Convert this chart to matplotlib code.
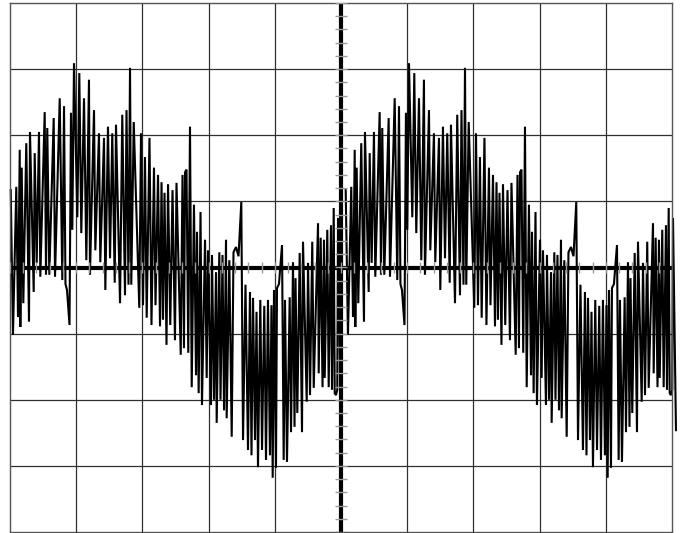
import numpy as np
import matplotlib
matplotlib.use('Agg')
import matplotlib.pyplot as plt

# one sweep of the trace (time and volts in divisions)
t_div = [0.011, 0.045, 0.095, 0.121, 0.147, 0.156, 0.177, 0.201, 0.246, 0.287,
         0.302, 0.358, 0.373, 0.403, 0.438, 0.458, 0.524, 0.544, 0.563, 0.594,
         0.660, 0.680, 0.751, 0.790, 0.816, 0.838, 0.861, 0.899, 0.921, 0.941,
         0.967, 1.017, 1.047, 1.077, 1.118, 1.153, 1.193, 1.208, 1.269, 1.289,
         1.344, 1.364, 1.420, 1.440, 1.480, 1.511, 1.545, 1.582, 1.601, 1.662,
         1.696, 1.737, 1.760, 1.790, 1.813, 1.832, 1.869, 1.953, 1.979, 2.009,
         2.039, 2.065, 2.107, 2.137, 2.175, 2.198, 2.236, 2.266, 2.289, 2.311,
         2.334, 2.364, 2.387, 2.421, 2.455, 2.492, 2.515, 2.579, 2.606, 2.628,
         2.644, 2.666, 2.693, 2.719, 2.745, 2.779, 2.810, 2.825, 2.850, 2.878,
         2.900, 2.946, 2.971, 2.991, 3.036, 3.051, 3.082, 3.112, 3.122, 3.162,
         3.180, 3.210, 3.233, 3.263, 3.273, 3.313, 3.349, 3.376, 3.414, 3.452,
         3.494, 3.520, 3.557, 3.595, 3.625, 3.648, 3.671, 3.701, 3.724, 3.746,
         3.781, 3.807, 3.841, 3.867, 3.897, 3.927, 3.950, 3.968, 3.988, 4.018,
         4.033, 4.063, 4.109, 4.134, 4.154, 4.184, 4.225, 4.245, 4.275, 4.298,
         4.313, 4.340, 4.376, 4.411, 4.426, 4.482, 4.502, 4.532, 4.566, 4.588,
         4.653, 4.663, 4.693, 4.721, 4.743, 4.754, 4.793, 4.814, 4.849, 4.864,
         4.890, 4.905, 4.924, 4.944, 4.955, 5.000]
v_div = [1.17, -1.02, 1.22, -0.75, 1.78, -0.90, 1.51, -0.54, 1.88, -0.82,
         2.05, -0.37, 1.73, 0.07, 2.05, -0.14, 2.35, -0.11, 2.11, -0.11,
         2.26, -0.14, 2.56, -0.19, 2.44, -0.25, -0.34, -0.87, 2.34, 0.57,
         3.09, 0.76, 2.94, 0.52, 2.56, 0.11, 2.84, -0.11, 2.38, 0.26,
         2.03, 0.08, 1.96, -0.34, 2.13, 0.14, 2.03, -0.23, 2.16, -0.54,
         2.31, -0.42, 2.38, -0.26, 3.02, -0.26, 2.20, -0.61, 2.03, -0.57,
         1.67, -0.76, 1.96, -0.87, 1.51, -0.57, 1.40, -0.89, 1.29, -0.79,
         1.13, -1.17, 1.26, -0.87, 1.17, -1.10, 1.28, -1.32, 1.40, -1.22,
         1.44, 1.48, -1.29, 2.13, -1.81, 0.95, -1.63, 0.54, -1.90, 0.84,
         -2.08, 0.42, -1.67, 0.26, -2.08, 0.19, -2.00, -0.07, -2.35, 0.23,
         -2.00, 0.19, -2.16, 0.42, -2.28, 0.11, -2.56, 0.23, 0.31, 0.17,
         0.99, -2.61, -0.26, -2.76, -0.37, -2.84, -0.46, -2.61, -0.67, -3.02,
         -0.49, -2.76, -0.58, -2.91, -0.49, -2.84, -0.57, -3.18, -0.34, -3.03,
         -0.31, -0.25, 0.34, -2.91, -0.49, -2.94, -0.45, -2.49, 0.08, -2.41,
         -0.16, -2.20, 0.22, -2.49, 0.39, -2.03, 0.07, -1.93, 0.39, -1.82,
         0.67, -1.60, 0.45, -1.81, 0.42, -1.67, 0.57, -1.81, 0.64, -1.85,
         0.90, -1.90, -1.93, -1.85, 0.75, -2.46]
sweep_period = 5.06   # the signal repeats every ~5.06 divisions
n_sweeps = 2

t = np.array(t_div)
v = np.array(v_div)

fig = plt.figure(figsize=(6.84, 5.33), dpi=100)
ax = fig.add_axes([10/684, 1/533, 662/684, 529/533])
ax.set_xlim(0, 10)
ax.set_ylim(-4, 4)
ax.set_xticks([])
ax.set_yticks([])
for s in ax.spines.values():
    s.set_color('#555555')
    s.set_linewidth(1.0)

# graticule
for gx in range(1, 10):
    ax.axvline(gx, color='#303030', lw=0.9, zorder=1)
for gy in range(-3, 4):
    ax.axhline(gy, color='#303030', lw=0.9, zorder=1)

# trace
for k in range(n_sweeps):
    ax.plot(t + k*sweep_period, v, color='black', lw=1.5, zorder=2,
            clip_on=False, solid_joinstyle='miter')

# centre axes with minor ticks
ax.axvline(5, color='black', lw=3.0, zorder=3)
ax.axhline(0, color='black', lw=3.0, zorder=3)
yt = np.arange(-4, 4.01, 0.2)
ax.hlines(yt, 5 - 0.09, 5 + 0.09, color='#9a9a9a', lw=1.0, zorder=4)
xt = np.arange(0, 10.01, 0.2)
ax.vlines(xt, -0.08, 0.08, color='#9a9a9a', lw=1.0, zorder=4)

fig.savefig('out.png', dpi=100)
